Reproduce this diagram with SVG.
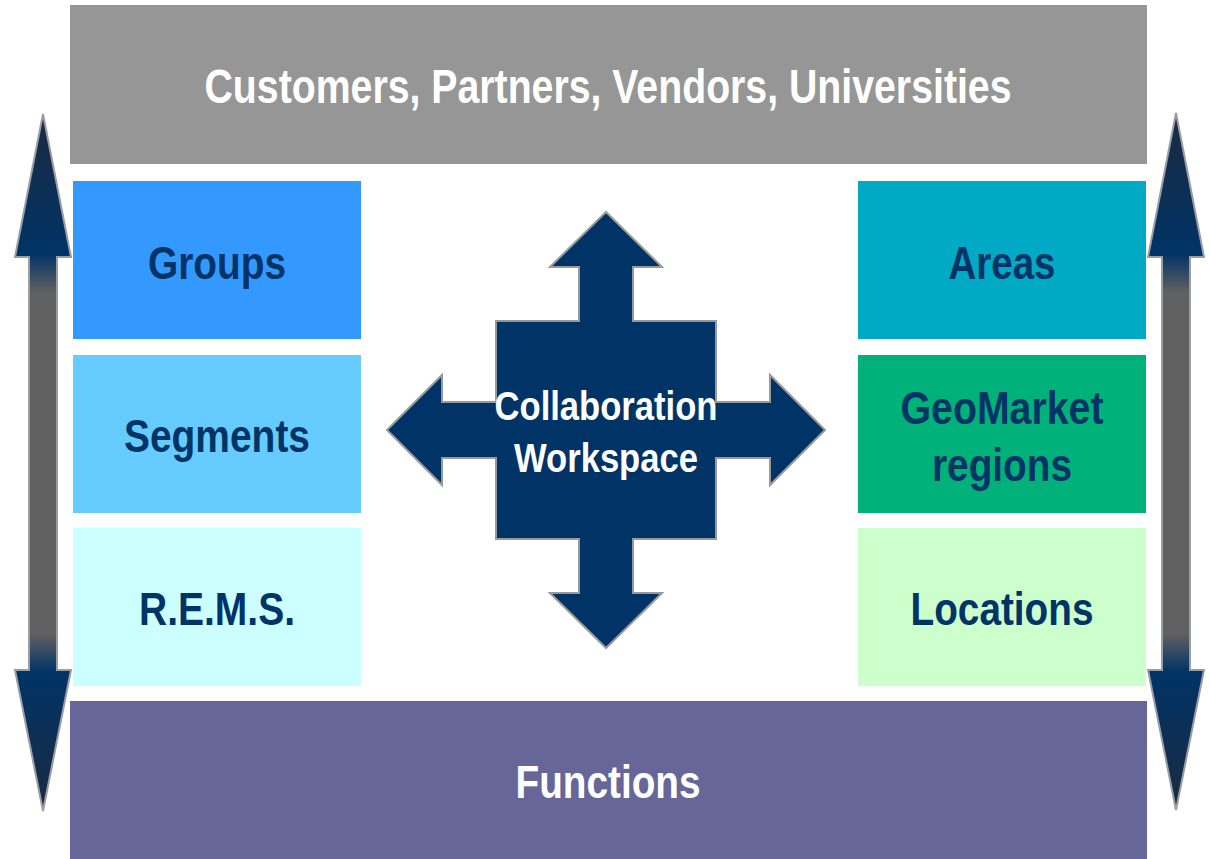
<svg xmlns="http://www.w3.org/2000/svg" width="1210" height="859" viewBox="0 0 1210 859">
<defs>
<linearGradient id="vgL" gradientUnits="userSpaceOnUse" x1="0" y1="114" x2="0" y2="812">
<stop offset="0" stop-color="#1c2a40"/>
<stop offset="0.2" stop-color="#003366"/>
<stop offset="0.255" stop-color="#606060"/>
<stop offset="0.745" stop-color="#606060"/>
<stop offset="0.8" stop-color="#003366"/>
<stop offset="1" stop-color="#1c2a40"/>
</linearGradient>
</defs>
<style>
.lbl{font-family:"Liberation Sans",Arial,sans-serif;font-weight:bold;text-anchor:middle}
.dk{fill:#003366}
.wh{fill:#ffffff}
.varr{fill:url(#vgL);stroke:#9a9ea3;stroke-width:2;stroke-linejoin:miter}
</style>
<rect width="1210" height="859" fill="#ffffff"/>

<g id="connectors">
<path id="arrow-left" class="varr" d="M43,114 L71,257 L57,257 L57,670 L71,670 L43,811 L15,670 L29,670 L29,257 L15,257 Z"/>
<path id="arrow-right" class="varr" d="M1176,113 L1204,257 L1190,257 L1190,670 L1204,670 L1176,810 L1148,670 L1162,670 L1162,257 L1148,257 Z"/>
</g>

<g id="top">
<rect x="70" y="5" width="1077" height="159" fill="#969696"/>
<text class="lbl wh" x="608" y="103" font-size="48" textLength="807" lengthAdjust="spacingAndGlyphs">Customers, Partners, Vendors, Universities</text>
</g>

<g id="groups">
<rect x="73" y="181" width="288" height="158" fill="#3399ff"/>
<text class="lbl dk" x="217" y="279" font-size="47" textLength="138" lengthAdjust="spacingAndGlyphs">Groups</text>
</g>
<g id="segments">
<rect x="73" y="355" width="288" height="158" fill="#66ccff"/>
<text class="lbl dk" x="217" y="452" font-size="47" textLength="186" lengthAdjust="spacingAndGlyphs">Segments</text>
</g>
<g id="rems">
<rect x="73" y="528" width="288" height="158" fill="#ccffff"/>
<text class="lbl dk" x="217" y="625" font-size="47" textLength="156" lengthAdjust="spacingAndGlyphs">R.E.M.S.</text>
</g>

<g id="areas">
<rect x="858" y="181" width="288" height="158" fill="#00a9c4"/>
<text class="lbl dk" x="1002" y="279" font-size="47" textLength="107" lengthAdjust="spacingAndGlyphs">Areas</text>
</g>
<g id="geomarket">
<rect x="858" y="355" width="288" height="158" fill="#00b27a"/>
<text class="lbl dk" x="1002" y="424" font-size="46" textLength="203" lengthAdjust="spacingAndGlyphs">GeoMarket</text>
<text class="lbl dk" x="1002" y="481" font-size="46" textLength="140" lengthAdjust="spacingAndGlyphs">regions</text>
</g>
<g id="locations">
<rect x="858" y="528" width="288" height="158" fill="#ccffcc"/>
<text class="lbl dk" x="1002" y="625" font-size="47" textLength="183" lengthAdjust="spacingAndGlyphs">Locations</text>
</g>

<g id="functions">
<rect x="70" y="701" width="1077" height="158" fill="#666699"/>
<text class="lbl wh" x="608" y="798" font-size="47" textLength="185" lengthAdjust="spacingAndGlyphs">Functions</text>
</g>

<g id="collaboration">
<path d="M606,212 L662,267 L633,267 L633,321 L716,321 L716,402 L770,402 L770,375 L825,430 L770,485 L770,458 L716,458 L716,539 L633,539 L633,593 L662,593 L606,648 L550,593 L579,593 L579,539 L496,539 L496,458 L442,458 L442,485 L387,430 L442,375 L442,402 L496,402 L496,321 L579,321 L579,267 L550,267 Z" fill="#003366" stroke="#999999" stroke-width="2"/>
<text class="lbl wh" x="606" y="420" font-size="40" textLength="223" lengthAdjust="spacingAndGlyphs">Collaboration</text>
<text class="lbl wh" x="606" y="472" font-size="40" textLength="184" lengthAdjust="spacingAndGlyphs">Workspace</text>
</g>
</svg>
